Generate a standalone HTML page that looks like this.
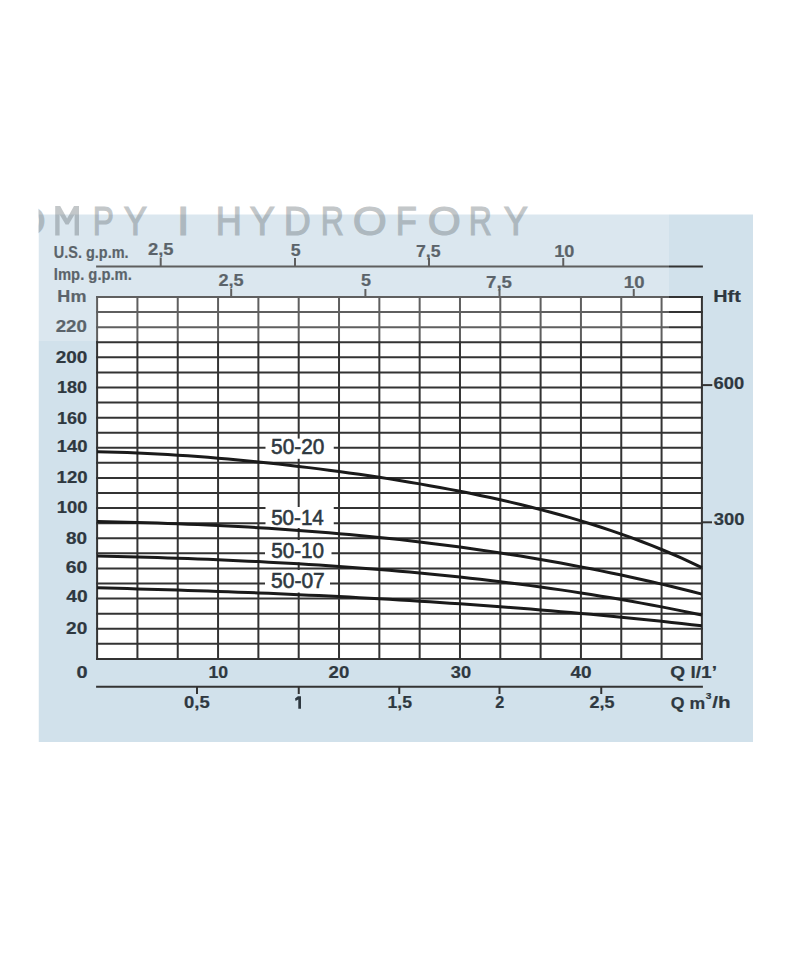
<!DOCTYPE html><html><head><meta charset="utf-8"><style>html,body{margin:0;padding:0;background:#fff;width:800px;height:968px;overflow:hidden}svg{display:block}</style></head><body>
<svg width="800" height="968" viewBox="0 0 800 968" font-family="Liberation Sans, sans-serif">
<rect x="38.5" y="214.5" width="714.5" height="527.5" fill="#d1e1eb"/>
<g stroke="#333" stroke-width="2" fill="none">
<line x1="96.1" y1="266.5" x2="702.9" y2="266.5"/>
<line x1="160.7" y1="258" x2="160.7" y2="266"/>
<line x1="295" y1="258" x2="295" y2="266"/>
<line x1="429" y1="258" x2="429" y2="266"/>
<line x1="563.25" y1="258" x2="563.25" y2="266"/>
<line x1="231.2" y1="289" x2="231.2" y2="297"/>
<line x1="365.4" y1="289" x2="365.4" y2="297"/>
<line x1="499.5" y1="289" x2="499.5" y2="297"/>
<line x1="633.75" y1="289" x2="633.75" y2="297"/>
</g>
<rect x="97.1" y="297.0" width="604.8" height="361.9" fill="#fff"/>
<g stroke="#333" stroke-width="2" fill="none">
<line x1="96.1" y1="297.00" x2="702.9" y2="297.00"/>
<line x1="96.1" y1="312.08" x2="702.9" y2="312.08"/>
<line x1="96.1" y1="327.16" x2="702.9" y2="327.16"/>
<line x1="96.1" y1="342.24" x2="702.9" y2="342.24"/>
<line x1="96.1" y1="357.32" x2="702.9" y2="357.32"/>
<line x1="96.1" y1="372.40" x2="702.9" y2="372.40"/>
<line x1="96.1" y1="387.47" x2="702.9" y2="387.47"/>
<line x1="96.1" y1="402.55" x2="702.9" y2="402.55"/>
<line x1="96.1" y1="417.63" x2="702.9" y2="417.63"/>
<line x1="96.1" y1="432.71" x2="702.9" y2="432.71"/>
<line x1="96.1" y1="447.79" x2="702.9" y2="447.79"/>
<line x1="96.1" y1="462.87" x2="702.9" y2="462.87"/>
<line x1="96.1" y1="477.95" x2="702.9" y2="477.95"/>
<line x1="96.1" y1="493.03" x2="702.9" y2="493.03"/>
<line x1="96.1" y1="508.11" x2="702.9" y2="508.11"/>
<line x1="96.1" y1="523.19" x2="702.9" y2="523.19"/>
<line x1="96.1" y1="538.27" x2="702.9" y2="538.27"/>
<line x1="96.1" y1="553.35" x2="702.9" y2="553.35"/>
<line x1="96.1" y1="568.42" x2="702.9" y2="568.42"/>
<line x1="96.1" y1="583.50" x2="702.9" y2="583.50"/>
<line x1="96.1" y1="598.58" x2="702.9" y2="598.58"/>
<line x1="96.1" y1="613.66" x2="702.9" y2="613.66"/>
<line x1="96.1" y1="628.74" x2="702.9" y2="628.74"/>
<line x1="96.1" y1="643.82" x2="702.9" y2="643.82"/>
<line x1="96.1" y1="658.90" x2="702.9" y2="658.90"/>
<line x1="97.10" y1="296.0" x2="97.10" y2="659.9"/>
<line x1="137.42" y1="296.0" x2="137.42" y2="659.9"/>
<line x1="177.74" y1="296.0" x2="177.74" y2="659.9"/>
<line x1="218.06" y1="296.0" x2="218.06" y2="659.9"/>
<line x1="258.38" y1="296.0" x2="258.38" y2="659.9"/>
<line x1="298.70" y1="296.0" x2="298.70" y2="659.9"/>
<line x1="339.02" y1="296.0" x2="339.02" y2="659.9"/>
<line x1="379.34" y1="296.0" x2="379.34" y2="659.9"/>
<line x1="419.66" y1="296.0" x2="419.66" y2="659.9"/>
<line x1="459.98" y1="296.0" x2="459.98" y2="659.9"/>
<line x1="500.30" y1="296.0" x2="500.30" y2="659.9"/>
<line x1="540.62" y1="296.0" x2="540.62" y2="659.9"/>
<line x1="580.94" y1="296.0" x2="580.94" y2="659.9"/>
<line x1="621.26" y1="296.0" x2="621.26" y2="659.9"/>
<line x1="661.58" y1="296.0" x2="661.58" y2="659.9"/>
<line x1="701.90" y1="296.0" x2="701.90" y2="659.9"/>
<line x1="96.1" y1="686.75" x2="702.9" y2="686.75"/>
<line x1="197" y1="687" x2="197" y2="694"/>
<line x1="298.75" y1="687" x2="298.75" y2="694"/>
<line x1="399.25" y1="687" x2="399.25" y2="694"/>
<line x1="499.5" y1="687" x2="499.5" y2="694"/>
<line x1="601.25" y1="687" x2="601.25" y2="694"/>
<line x1="701.9" y1="385.1" x2="712.3" y2="385.1"/>
<line x1="701.9" y1="522.3" x2="712" y2="522.3"/>
</g>
<rect x="265.5" y="438.6" width="68.25" height="20.19999999999999" fill="#fff"/>
<rect x="265.5" y="507" width="68.25" height="21" fill="#fff"/>
<rect x="265" y="540" width="66.5" height="22.5" fill="#fff"/>
<rect x="265" y="570" width="65" height="22.5" fill="#fff"/>
<g stroke="#1a1a1a" stroke-width="3.0" fill="none" stroke-linecap="butt" stroke-linejoin="round">
<path d="M97.1,451.86 L107.2,452.03 L117.3,452.28 L127.3,452.59 L137.4,452.98 L147.5,453.43 L157.6,453.94 L167.7,454.51 L177.7,455.14 L187.8,455.82 L197.9,456.55 L208.0,457.34 L218.1,458.17 L228.1,459.05 L238.2,459.97 L248.3,460.94 L258.4,461.95 L268.5,463.00 L278.5,464.10 L288.6,465.23 L298.7,466.41 L308.8,467.63 L318.9,468.88 L328.9,470.18 L339.0,471.52 L349.1,472.91 L359.2,474.34 L369.3,475.81 L379.3,477.32 L389.4,478.89 L399.5,480.50 L409.6,482.16 L419.7,483.88 L429.7,485.65 L439.8,487.48 L449.9,489.37 L460.0,491.32 L470.1,493.33 L480.1,495.42 L490.2,497.58 L500.3,499.81 L510.4,502.12 L520.5,504.52 L530.5,507.00 L540.6,509.58 L550.7,512.25 L560.8,515.02 L570.9,517.90 L580.9,520.89 L591.0,524.00 L601.1,527.23 L611.2,530.59 L621.3,534.08 L631.3,537.71 L641.4,541.48 L651.5,545.41 L661.6,549.50 L671.7,553.75 L681.7,558.17 L691.8,562.78 L701.9,567.57"/>
<path d="M97.1,521.49 L107.2,521.69 L117.3,521.91 L127.3,522.16 L137.4,522.43 L147.5,522.72 L157.6,523.04 L167.7,523.38 L177.7,523.75 L187.8,524.15 L197.9,524.57 L208.0,525.02 L218.1,525.49 L228.1,526.00 L238.2,526.53 L248.3,527.10 L258.4,527.70 L268.5,528.32 L278.5,528.98 L288.6,529.67 L298.7,530.40 L308.8,531.16 L318.9,531.95 L328.9,532.78 L339.0,533.65 L349.1,534.55 L359.2,535.49 L369.3,536.47 L379.3,537.48 L389.4,538.54 L399.5,539.63 L409.6,540.77 L419.7,541.94 L429.7,543.16 L439.8,544.42 L449.9,545.72 L460.0,547.07 L470.1,548.46 L480.1,549.90 L490.2,551.38 L500.3,552.90 L510.4,554.48 L520.5,556.10 L530.5,557.77 L540.6,559.49 L550.7,561.26 L560.8,563.08 L570.9,564.95 L580.9,566.87 L591.0,568.84 L601.1,570.87 L611.2,572.94 L621.3,575.08 L631.3,577.26 L641.4,579.51 L651.5,581.81 L661.6,584.16 L671.7,586.57 L681.7,589.04 L691.8,591.57 L701.9,594.16"/>
<path d="M97.1,556.05 L107.2,556.27 L117.3,556.51 L127.3,556.77 L137.4,557.04 L147.5,557.32 L157.6,557.62 L167.7,557.94 L177.7,558.27 L187.8,558.62 L197.9,558.99 L208.0,559.37 L218.1,559.78 L228.1,560.21 L238.2,560.66 L248.3,561.13 L258.4,561.62 L268.5,562.13 L278.5,562.67 L288.6,563.23 L298.7,563.82 L308.8,564.43 L318.9,565.07 L328.9,565.73 L339.0,566.42 L349.1,567.14 L359.2,567.89 L369.3,568.67 L379.3,569.48 L389.4,570.32 L399.5,571.19 L409.6,572.09 L419.7,573.02 L429.7,573.99 L439.8,574.99 L449.9,576.03 L460.0,577.10 L470.1,578.20 L480.1,579.35 L490.2,580.53 L500.3,581.75 L510.4,583.00 L520.5,584.30 L530.5,585.63 L540.6,587.01 L550.7,588.42 L560.8,589.88 L570.9,591.38 L580.9,592.93 L591.0,594.51 L601.1,596.15 L611.2,597.82 L621.3,599.54 L631.3,601.31 L641.4,603.13 L651.5,604.99 L661.6,606.90 L671.7,608.86 L681.7,610.87 L691.8,612.93 L701.9,615.04"/>
<path d="M97.1,587.85 L107.2,588.10 L117.3,588.35 L127.3,588.61 L137.4,588.88 L147.5,589.16 L157.6,589.45 L167.7,589.76 L177.7,590.07 L187.8,590.39 L197.9,590.72 L208.0,591.06 L218.1,591.42 L228.1,591.78 L238.2,592.16 L248.3,592.54 L258.4,592.95 L268.5,593.36 L278.5,593.78 L288.6,594.22 L298.7,594.67 L308.8,595.13 L318.9,595.61 L328.9,596.10 L339.0,596.61 L349.1,597.12 L359.2,597.66 L369.3,598.20 L379.3,598.76 L389.4,599.34 L399.5,599.93 L409.6,600.54 L419.7,601.16 L429.7,601.80 L439.8,602.46 L449.9,603.13 L460.0,603.81 L470.1,604.52 L480.1,605.24 L490.2,605.98 L500.3,606.73 L510.4,607.50 L520.5,608.29 L530.5,609.10 L540.6,609.93 L550.7,610.78 L560.8,611.64 L570.9,612.52 L580.9,613.43 L591.0,614.35 L601.1,615.29 L611.2,616.25 L621.3,617.23 L631.3,618.23 L641.4,619.26 L651.5,620.30 L661.6,621.36 L671.7,622.45 L681.7,623.55 L691.8,624.68 L701.9,625.83"/>
</g>
<text x="53.85" y="257.79" font-size="17.00" font-weight="bold" fill="#2e3840" stroke="#2e3840" stroke-width="0.2" textLength="74.73" lengthAdjust="spacingAndGlyphs">U.S. g.p.m.</text>
<text x="53.85" y="279.53" font-size="17.00" font-weight="bold" fill="#2e3840" stroke="#2e3840" stroke-width="0.2" textLength="78.04" lengthAdjust="spacingAndGlyphs">Imp. g.p.m.</text>
<text x="57.39" y="301.63" font-size="16.50" font-weight="bold" fill="#2e3840" stroke="#2e3840" stroke-width="0.2" textLength="29.03" lengthAdjust="spacingAndGlyphs">Hm</text>
<text x="55.70" y="331.79" font-size="16.20" font-weight="bold" fill="#2e3840" stroke="#2e3840" stroke-width="0.2" textLength="31.25" lengthAdjust="spacingAndGlyphs">220</text>
<text x="55.67" y="362.73" font-size="16.20" font-weight="bold" fill="#2e3840" stroke="#2e3840" stroke-width="0.2" textLength="31.64" lengthAdjust="spacingAndGlyphs">200</text>
<text x="57.02" y="392.80" font-size="16.20" font-weight="bold" fill="#2e3840" stroke="#2e3840" stroke-width="0.2" textLength="29.98" lengthAdjust="spacingAndGlyphs">180</text>
<text x="57.02" y="423.94" font-size="16.20" font-weight="bold" fill="#2e3840" stroke="#2e3840" stroke-width="0.2" textLength="29.98" lengthAdjust="spacingAndGlyphs">160</text>
<text x="56.65" y="451.70" font-size="16.20" font-weight="bold" fill="#2e3840" stroke="#2e3840" stroke-width="0.2" textLength="30.75" lengthAdjust="spacingAndGlyphs">140</text>
<text x="56.62" y="482.75" font-size="16.20" font-weight="bold" fill="#2e3840" stroke="#2e3840" stroke-width="0.2" textLength="30.98" lengthAdjust="spacingAndGlyphs">120</text>
<text x="56.65" y="512.60" font-size="16.20" font-weight="bold" fill="#2e3840" stroke="#2e3840" stroke-width="0.2" textLength="30.75" lengthAdjust="spacingAndGlyphs">100</text>
<text x="65.98" y="543.98" font-size="16.20" font-weight="bold" fill="#2e3840" stroke="#2e3840" stroke-width="0.2" textLength="21.07" lengthAdjust="spacingAndGlyphs">80</text>
<text x="65.84" y="572.89" font-size="16.20" font-weight="bold" fill="#2e3840" stroke="#2e3840" stroke-width="0.2" textLength="21.51" lengthAdjust="spacingAndGlyphs">60</text>
<text x="66.32" y="601.75" font-size="16.20" font-weight="bold" fill="#2e3840" stroke="#2e3840" stroke-width="0.2" textLength="21.29" lengthAdjust="spacingAndGlyphs">40</text>
<text x="66.13" y="633.87" font-size="16.20" font-weight="bold" fill="#2e3840" stroke="#2e3840" stroke-width="0.2" textLength="21.19" lengthAdjust="spacingAndGlyphs">20</text>
<text x="76.43" y="677.80" font-size="16.20" font-weight="bold" fill="#2e3840" stroke="#2e3840" stroke-width="0.2" textLength="11.11" lengthAdjust="spacingAndGlyphs">0</text>
<text x="147.98" y="254.60" font-size="16.20" font-weight="bold" fill="#2e3840" stroke="#2e3840" stroke-width="0.2" textLength="25.54" lengthAdjust="spacingAndGlyphs">2,5</text>
<text x="290.87" y="255.60" font-size="16.20" font-weight="bold" fill="#2e3840" stroke="#2e3840" stroke-width="0.2" textLength="9.87" lengthAdjust="spacingAndGlyphs">5</text>
<text x="415.93" y="256.94" font-size="16.20" font-weight="bold" fill="#2e3840" stroke="#2e3840" stroke-width="0.2" textLength="24.58" lengthAdjust="spacingAndGlyphs">7,5</text>
<text x="554.29" y="256.50" font-size="16.20" font-weight="bold" fill="#2e3840" stroke="#2e3840" stroke-width="0.2" textLength="20.13" lengthAdjust="spacingAndGlyphs">10</text>
<text x="218.53" y="285.64" font-size="16.20" font-weight="bold" fill="#2e3840" stroke="#2e3840" stroke-width="0.2" textLength="25.20" lengthAdjust="spacingAndGlyphs">2,5</text>
<text x="360.90" y="285.54" font-size="16.20" font-weight="bold" fill="#2e3840" stroke="#2e3840" stroke-width="0.2" textLength="9.99" lengthAdjust="spacingAndGlyphs">5</text>
<text x="486.01" y="287.58" font-size="16.20" font-weight="bold" fill="#2e3840" stroke="#2e3840" stroke-width="0.2" textLength="25.97" lengthAdjust="spacingAndGlyphs">7,5</text>
<text x="623.88" y="287.98" font-size="16.20" font-weight="bold" fill="#2e3840" stroke="#2e3840" stroke-width="0.2" textLength="20.60" lengthAdjust="spacingAndGlyphs">10</text>
<text x="713.33" y="301.65" font-size="16.50" font-weight="bold" fill="#2e3840" stroke="#2e3840" stroke-width="0.2" textLength="27.48" lengthAdjust="spacingAndGlyphs">Hft</text>
<text x="713.58" y="388.73" font-size="16.20" font-weight="bold" fill="#2e3840" stroke="#2e3840" stroke-width="0.2" textLength="30.60" lengthAdjust="spacingAndGlyphs">600</text>
<text x="713.68" y="524.74" font-size="16.20" font-weight="bold" fill="#2e3840" stroke="#2e3840" stroke-width="0.2" textLength="30.70" lengthAdjust="spacingAndGlyphs">300</text>
<text x="208.48" y="677.62" font-size="16.20" font-weight="bold" fill="#2e3840" stroke="#2e3840" stroke-width="0.2" textLength="19.65" lengthAdjust="spacingAndGlyphs">10</text>
<text x="328.55" y="677.59" font-size="16.20" font-weight="bold" fill="#2e3840" stroke="#2e3840" stroke-width="0.2" textLength="20.69" lengthAdjust="spacingAndGlyphs">20</text>
<text x="450.83" y="677.60" font-size="16.20" font-weight="bold" fill="#2e3840" stroke="#2e3840" stroke-width="0.2" textLength="20.24" lengthAdjust="spacingAndGlyphs">30</text>
<text x="570.40" y="677.62" font-size="16.20" font-weight="bold" fill="#2e3840" stroke="#2e3840" stroke-width="0.2" textLength="21.03" lengthAdjust="spacingAndGlyphs">40</text>
<text x="670.35" y="677.80" font-size="16.50" font-weight="bold" fill="#2e3840" stroke="#2e3840" stroke-width="0.2" textLength="46.63" lengthAdjust="spacingAndGlyphs">Q l/1’</text>
<text x="184.03" y="707.56" font-size="16.20" font-weight="bold" fill="#2e3840" stroke="#2e3840" stroke-width="0.2" textLength="25.65" lengthAdjust="spacingAndGlyphs">0,5</text>
<text x="387.56" y="707.81" font-size="16.20" font-weight="bold" fill="#2e3840" stroke="#2e3840" stroke-width="0.2" textLength="24.42" lengthAdjust="spacingAndGlyphs">1,5</text>
<text x="495.37" y="707.57" font-size="16.20" font-weight="bold" fill="#2e3840" stroke="#2e3840" stroke-width="0.2" textLength="9.03" lengthAdjust="spacingAndGlyphs">2</text>
<text x="589.46" y="707.81" font-size="16.20" font-weight="bold" fill="#2e3840" stroke="#2e3840" stroke-width="0.2" textLength="24.98" lengthAdjust="spacingAndGlyphs">2,5</text>
<text x="670.82" y="708.98" font-size="16.50" font-weight="bold" fill="#2e3840" stroke="#2e3840" stroke-width="0.2" textLength="34.37" lengthAdjust="spacingAndGlyphs">Q m</text>
<text x="705.86" y="698.62" font-size="9.20" font-weight="bold" fill="#2e3840" stroke="#2e3840" stroke-width="0.2" textLength="5.69" lengthAdjust="spacingAndGlyphs">3</text>
<text x="712.25" y="707.96" font-size="16.50" font-weight="bold" fill="#2e3840" stroke="#2e3840" stroke-width="0.2" textLength="18.34" lengthAdjust="spacingAndGlyphs">/h</text>
<text x="271.08" y="453.69" font-size="22.60" font-weight="normal" fill="#2e3840" stroke="#2e3840" stroke-width="0.6" textLength="53.24" lengthAdjust="spacingAndGlyphs">50-20</text>
<text x="271.15" y="524.97" font-size="22.60" font-weight="normal" fill="#2e3840" stroke="#2e3840" stroke-width="0.6" textLength="52.69" lengthAdjust="spacingAndGlyphs">50-14</text>
<text x="271.15" y="557.69" font-size="22.60" font-weight="normal" fill="#2e3840" stroke="#2e3840" stroke-width="0.6" textLength="52.92" lengthAdjust="spacingAndGlyphs">50-10</text>
<text x="271.03" y="587.69" font-size="22.60" font-weight="normal" fill="#2e3840" stroke="#2e3840" stroke-width="0.6" textLength="53.80" lengthAdjust="spacingAndGlyphs">50-07</text>
<path d="M297.9,696.2 L301.0,696.2 L301.0,708.8 L298.3,708.8 L298.3,699.6 L295.6,701.0 L295.0,698.6 Z" fill="#2e3840"/>
<rect x="0" y="0" width="669" height="341" fill="#fff" fill-opacity="0.22"/>
<g opacity="0.38">
<text x="10.72" y="235.00" font-size="41.00" font-weight="normal" fill="#646e73" stroke="#646e73" stroke-width="1.2" textLength="35.10" lengthAdjust="spacingAndGlyphs">O</text>
<text x="92.72" y="235.00" font-size="41.00" font-weight="normal" fill="#646e73" stroke="#646e73" stroke-width="1.2" textLength="21.10" lengthAdjust="spacingAndGlyphs">P</text>
<text x="123.72" y="235.00" font-size="41.00" font-weight="normal" fill="#646e73" stroke="#646e73" stroke-width="1.2" textLength="23.30" lengthAdjust="spacingAndGlyphs">Y</text>
<text x="176.72" y="235.00" font-size="41.00" font-weight="normal" fill="#646e73" stroke="#646e73" stroke-width="1.2" textLength="12.90" lengthAdjust="spacingAndGlyphs">I</text>
<text x="215.72" y="235.00" font-size="41.00" font-weight="normal" fill="#646e73" stroke="#646e73" stroke-width="1.2" textLength="26.10" lengthAdjust="spacingAndGlyphs">H</text>
<text x="249.72" y="235.00" font-size="41.00" font-weight="normal" fill="#646e73" stroke="#646e73" stroke-width="1.2" textLength="25.10" lengthAdjust="spacingAndGlyphs">Y</text>
<text x="283.72" y="235.00" font-size="41.00" font-weight="normal" fill="#646e73" stroke="#646e73" stroke-width="1.2" textLength="27.10" lengthAdjust="spacingAndGlyphs">D</text>
<text x="320.72" y="235.00" font-size="41.00" font-weight="normal" fill="#646e73" stroke="#646e73" stroke-width="1.2" textLength="23.10" lengthAdjust="spacingAndGlyphs">R</text>
<text x="352.72" y="235.00" font-size="41.00" font-weight="normal" fill="#646e73" stroke="#646e73" stroke-width="1.2" textLength="34.10" lengthAdjust="spacingAndGlyphs">O</text>
<text x="395.72" y="235.00" font-size="41.00" font-weight="normal" fill="#646e73" stroke="#646e73" stroke-width="1.2" textLength="21.10" lengthAdjust="spacingAndGlyphs">F</text>
<text x="427.72" y="235.00" font-size="41.00" font-weight="normal" fill="#646e73" stroke="#646e73" stroke-width="1.2" textLength="33.10" lengthAdjust="spacingAndGlyphs">O</text>
<text x="468.72" y="235.00" font-size="41.00" font-weight="normal" fill="#646e73" stroke="#646e73" stroke-width="1.2" textLength="23.10" lengthAdjust="spacingAndGlyphs">R</text>
<text x="503.72" y="235.00" font-size="41.00" font-weight="normal" fill="#646e73" stroke="#646e73" stroke-width="1.2" textLength="24.10" lengthAdjust="spacingAndGlyphs">Y</text>
<path d="M55.2,206 L60.2,206 L67.1,218.6 L74.0,206 L79.0,206 L79.0,235.6 L74.6,235.6 L74.6,214.5 L68.6,224.6 L65.6,224.6 L59.6,214.5 L59.6,235.6 L55.2,235.6 Z" fill="#646e73"/>
</g>
<rect x="0" y="0" width="38.5" height="968" fill="#fff"/>
</svg></body></html>
